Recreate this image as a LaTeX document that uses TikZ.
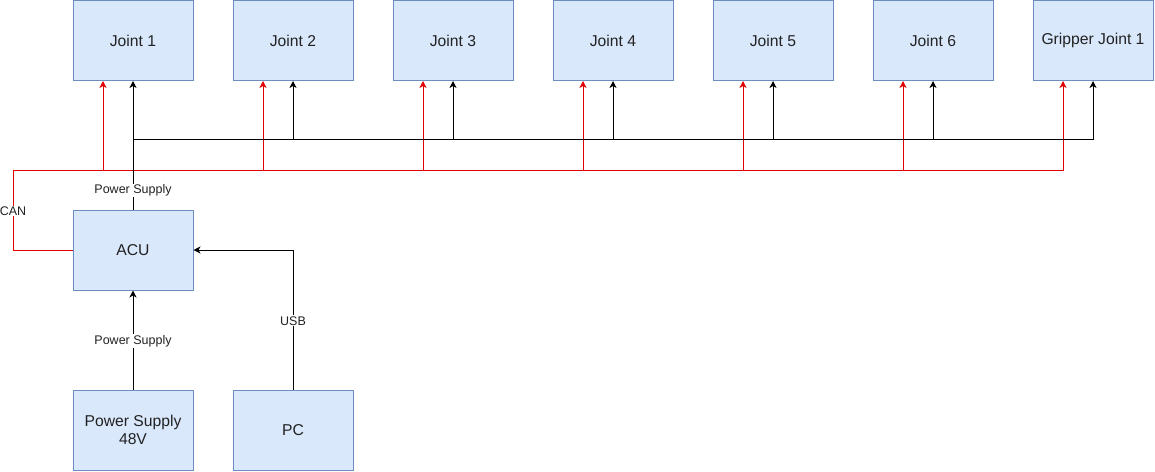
\documentclass[tikz,border=0pt]{standalone}
\usepackage{fontspec}
\setmainfont{Liberation Sans}
\usetikzlibrary{arrows.meta}
\definecolor{boxfill}{HTML}{DAE8FC}
\definecolor{boxline}{HTML}{6C8EBF}
\definecolor{canred}{HTML}{E00000}
\definecolor{txt}{HTML}{222222}
\tikzset{
  unitbox/.style={draw=boxline, fill=boxfill, line width=1pt, minimum width=120pt, minimum height=80pt,
    inner sep=0pt, align=center, text=txt, font=\fontsize{15.7}{18.5}\selectfont},
  tip/.style={-{Stealth[length=7pt,width=7pt,inset=2pt]}},
  pw/.style={draw=black, line width=1pt, tip},
  can/.style={draw=canred, line width=1pt, tip},
  lbl/.style={fill=white, inner sep=1pt, text=txt, font=\fontsize{12.5}{14}\selectfont},
}
\begin{document}
\begin{tikzpicture}[x=1pt,y=-1pt]
\useasboundingbox (0,0) rectangle (1155,471);
\node[unitbox] (j1) at (133,40.5) {Joint 1};
\node[unitbox] (j2) at (293,40.5) {Joint 2};
\node[unitbox] (j3) at (453,40.5) {Joint 3};
\node[unitbox] (j4) at (613,40.5) {Joint 4};
\node[unitbox] (j5) at (773,40.5) {Joint 5};
\node[unitbox] (j6) at (933,40.5) {Joint 6};
\node[unitbox] (j7) at (1093,40.5) {Gripper Joint 1};
\node[unitbox] (acu) at (133,250) {ACU};
\node[unitbox] (psu) at (133,430) {Power Supply\\48V};
\node[unitbox] (pc) at (293,430) {PC};
\coordinate (canc) at (13,170);
% red CAN bus
\foreach \j in {j2,j3,j4,j5,j6,j7}{
  \draw[can] (acu.west) -| (canc) -| ([xshift=-30pt]\j.south);
}
\draw[can] (acu.west) -| (canc) -| ([xshift=-30pt]j1.south);
\node[lbl] at (13,211) {CAN};
% black power bus
\foreach \j in {j2,j3,j4,j5,j6,j7}{
  \draw[pw] (acu.north) -- ++(0,-70) -| (\j.south);
}
\draw[pw] (acu.north) -- node[lbl,pos=0.147] {Power Supply} (j1.south);
% inputs to ACU
\draw[pw] (psu.north) -- node[lbl,pos=0.49] {Power Supply} (acu.south);
\draw[pw] (pc.north) |- node[lbl,pos=0.246] {USB} (acu.east);
\end{tikzpicture}
\end{document}
